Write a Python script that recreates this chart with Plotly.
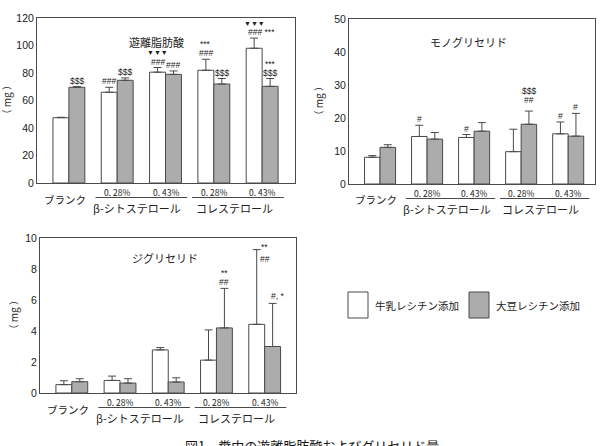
import plotly.graph_objects as go

W, H = 605, 446

# ---------------- data ----------------
categories = ["ブランク", "β-シトステロール 0.28%", "β-シトステロール 0.43%",
              "コレステロール 0.28%", "コレステロール 0.43%"]
conc_labels = ["", "0. 28%", "0. 43%", "0. 28%", "0. 43%"]
blank_label = "ブランク"
group_names = ["β-シトステロール", "コレステロール"]
group_members = [[1, 2], [3, 4]]
series_names = ["牛乳レシチン添加", "大豆レシチン添加"]

ffa_titles = "遊離脂肪酸"
ffa_milk = [47.5, 66.0, 80.6, 82.0, 98.0]
ffa_milk_err = [0.3, 3.6, 3.4, 8.0, 7.4]
ffa_soy = [69.6, 74.7, 79.0, 72.0, 70.3]
ffa_soy_err = [0.5, 1.7, 2.5, 4.0, 5.7]
ffa_milk_marks = [[], ["###"], ["###", "▼▼▼"], ["###", "***"], ["### ***", "▼▼▼"]]
ffa_soy_marks = [["$$$"], ["$$$"], ["###"], ["$$$"], ["$$$", "***"]]

mg_title = "モノグリセリド"
mg_milk = [8.1, 14.4, 14.1, 9.8, 15.2]
mg_milk_err = [0.5, 3.4, 0.9, 6.8, 3.6]
mg_soy = [11.1, 13.6, 16.0, 18.1, 14.5]
mg_soy_err = [0.8, 2.0, 2.6, 4.0, 6.9]
mg_milk_marks = [[], ["#"], ["#"], [], ["#"]]
mg_soy_marks = [[], [], [], ["##", "$$$"], ["#"]]

dg_title = "ジグリセリド"
dg_milk = [0.54, 0.81, 2.78, 2.12, 4.43]
dg_milk_err = [0.25, 0.28, 0.15, 1.95, 4.82]
dg_soy = [0.73, 0.64, 0.71, 4.20, 3.00]
dg_soy_err = [0.19, 0.28, 0.27, 2.55, 2.78]
dg_milk_marks = [[], [], [], [], ["##", "**"]]
dg_soy_marks = [[], [], [], ["##", "**"], ["#, *"]]

y_label = "（ mg ）"
caption = "図1　糞中の遊離脂肪酸およびグリセリド量"

# ---------------- styling / layout ----------------
WHITE = "#ffffff"
GRAY = "#acacac"
EDGE = "#4a4a4a"
TXT = "#222222"
JP = "Noto Sans CJK JP"
NUM = "Liberation Sans, Arial"
BARW = 0.33

panels = [
    dict(title=ffa_titles, milk=ffa_milk, milk_err=ffa_milk_err, soy=ffa_soy, soy_err=ffa_soy_err,
         mmarks=ffa_milk_marks, smarks=ffa_soy_marks,
         px=(37, 295), py=(18, 183), xr=(-0.66, 4.68), yr=(0, 120), dtick=20,
         tpos=(0.465, 0.855), ylab_x=6,
         special={}),
    dict(title=mg_title, milk=mg_milk, milk_err=mg_milk_err, soy=mg_soy, soy_err=mg_soy_err,
         mmarks=mg_milk_marks, smarks=mg_soy_marks,
         px=(349, 595), py=(19, 184), xr=(-0.66, 4.57), yr=(0, 50), dtick=10,
         tpos=(0.484, 0.862), ylab_x=318,
         special={(1, 3): dict(base=11)}),
    dict(title=dg_title, milk=dg_milk, milk_err=dg_milk_err, soy=dg_soy, soy_err=dg_soy_err,
         mmarks=dg_milk_marks, smarks=dg_soy_marks,
         px=(40, 296), py=(238, 393), xr=(-0.66, 4.65), yr=(0, 10), dtick=2,
         tpos=(0.488, 0.868), ylab_x=13,
         special={(0, 4): dict(dx=BARW / 2, base=-9, step=11.5), (1, 4): dict(xshift=5, base=7)}),
]

fig = go.Figure()
annotations = []
shapes = []


def ann(**kw):
    d = dict(showarrow=False, xanchor="center", yanchor="middle")
    d.update(kw)
    annotations.append(d)
    return d


for i, p in enumerate(panels):
    n = "" if i == 0 else str(i + 1)
    xa, ya = "x" + n, "y" + n
    x = list(range(len(categories)))
    for s, (vals, errs, color, name) in enumerate([
        (p["milk"], p["milk_err"], WHITE, series_names[0]),
        (p["soy"], p["soy_err"], GRAY, series_names[1]),
    ]):
        fig.add_trace(go.Bar(
            x=x, y=vals, name=name, xaxis=xa, yaxis=ya, showlegend=False,
            marker=dict(color=color, line=dict(color=EDGE, width=1)),
            error_y=dict(type="data", symmetric=False, array=errs, arrayminus=[0] * len(errs),
                         color=EDGE, thickness=1, width=4),
        ))

    x0, x1 = p["px"]
    y0, y1 = p["py"]
    fig.layout["xaxis" + n] = dict(
        domain=[x0 / W, x1 / W], anchor=ya, range=list(p["xr"]), automargin=False,
        showticklabels=False, ticks="", showgrid=False, zeroline=False,
        showline=True, mirror=True, linecolor=EDGE, linewidth=1, fixedrange=True)
    fig.layout["yaxis" + n] = dict(
        domain=[1 - y1 / H, 1 - y0 / H], anchor=xa, range=list(p["yr"]), dtick=p["dtick"],
        automargin=False,
        showgrid=False, zeroline=False, showline=True, mirror=True, linecolor=EDGE, linewidth=1,
        ticks="", tickfont=dict(family=NUM, size=10.5, color=TXT), fixedrange=True)

    # chart title
    ann(text=p["title"], xref=xa + " domain", yref=ya + " domain",
        x=p["tpos"][0], y=p["tpos"][1], font=dict(family=JP, size=11, color=TXT))
    # y label
    ann(text=y_label, xref="paper", yref="paper", x=p["ylab_x"] / W,
        y=1 - (y0 + y1) / 2 / H, textangle=-90, font=dict(family=JP, size=10, color=TXT))

    # category labels
    ann(text=blank_label, xref=xa, yref="paper", x=x[0] - 0.08,
        y=1 - (y1 + 16) / H, font=dict(family=JP, size=10.5, color=TXT))
    for k in range(1, len(categories)):
        ann(text=conc_labels[k], xref=xa, yref="paper", x=x[k],
            y=1 - (y1 + 9) / H, font=dict(family=JP, size=8.5, color=TXT))
    for g, members in enumerate(group_members):
        a, b = members[0] - 0.45, members[-1] + 0.45
        shapes.append(dict(type="line", xref=xa, yref="paper", x0=a, x1=b,
                           y0=1 - (y1 + 14.5) / H, y1=1 - (y1 + 14.5) / H,
                           line=dict(color=EDGE, width=1)))
        ann(text=group_names[g], xref=xa, yref="paper",
            x=(members[0] + members[-1]) / 2 - 0.08,
            y=1 - (y1 + 25) / H, font=dict(family=JP, size=11, color=TXT))

    # significance marks
    for s, (vals, errs, marks) in enumerate([
        (p["milk"], p["milk_err"], p["mmarks"]),
        (p["soy"], p["soy_err"], p["smarks"]),
    ]):
        for k, lines in enumerate(marks):
            sp = p["special"].get((s, k), {})
            base = sp.get("base", 6)
            step = sp.get("step", 9)
            xc = x[k] + (-BARW / 2 if s == 0 else BARW / 2) + sp.get("dx", 0)
            for j, t in enumerate(lines):
                d = ann(text=t, xref=xa, yref=ya, x=xc, y=vals[k] + errs[k],
                        yshift=base + step * j, xshift=sp.get("xshift", 0),
                        font=dict(family=NUM, size=8.5 if "▼" not in t else 7, color=TXT))
                if t == "### ***":
                    d.update(x=x[k] - BARW, xanchor="left", xshift=0)

# legend
for s, (name, color) in enumerate(zip(series_names, [WHITE, GRAY])):
    lx = 348 + 121 * s
    shapes.append(dict(type="rect", xref="paper", yref="paper",
                       x0=lx / W, x1=(lx + 20) / W, y0=1 - 318 / H, y1=1 - 292 / H,
                       fillcolor=color, line=dict(color=EDGE, width=1)))
    ann(text=name, xref="paper", yref="paper", x=(lx + 25) / W,
        y=1 - 305 / H, xanchor="left", font=dict(family=JP, size=10.5, color=TXT))

# caption (cut off at bottom edge)
ann(text=caption, xref="paper", yref="paper", x=183 / W, y=1 - 445 / H,
    xanchor="left", font=dict(family=JP, size=13, color="#111"))

fig.update_layout(
    width=W, height=H, margin=dict(l=0, r=0, t=0, b=0, autoexpand=False),
    paper_bgcolor="white", plot_bgcolor="white",
    barmode="group", bargap=0.34, bargroupgap=0,
    annotations=annotations, shapes=shapes,
)

fig.write_html("out.html")
